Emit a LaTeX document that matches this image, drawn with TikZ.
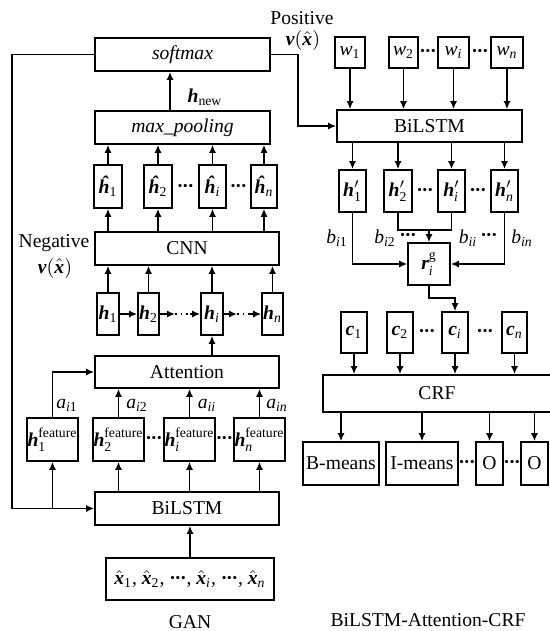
\documentclass[tikz,border=0pt]{standalone}
\usepackage{amsmath}
\usepackage{fontspec}
\setmainfont{Liberation Serif}
\usetikzlibrary{arrows.meta}

% bold italic vector letter, upright text and italic text inside math
\newcommand{\bv}[1]{\text{\normalfont\bfseries\itshape #1}}
\newcommand{\tx}[1]{\text{\normalfont #1}}
\newcommand{\ti}[1]{\text{\normalfont\itshape #1}}
% compact row of three centred dots
\newcommand{\dd}{\textperiodcentered\kern-0.06em\textperiodcentered\kern-0.06em\textperiodcentered}
% box given by its corners: name, x1, y1, x2, y2, text
\newcommand{\boxnode}[6]{%
  \node[blk, minimum width={(#4-#2)*0.5pt}, minimum height={(#5-#3)*0.5pt}]
    (#1) at ({(#2+#4)/2},{(#3+#5)/2}) {#6};}

\begin{document}
\begin{tikzpicture}[x=0.5pt, y=-0.5pt,
  font=\fontsize{9.8}{11.8}\selectfont, line width=0.8pt,
  blk/.style={draw, inner sep=0pt},
  arr/.style={-{Latex[length=4pt,width=3.5pt]}},
  lbl/.style={inner sep=0pt},
  dots/.style={inner sep=0pt, font=\fontsize{9.8}{11.8}\selectfont\bfseries}]
\clip (0,0) rectangle (550,631);

% ---------------- GAN ----------------
\boxnode{softmax}{95}{38}{270}{71}{\textit{softmax}}
\boxnode{maxpool}{95}{111}{270}{144}{\textit{max\_pooling}}
\node[lbl] (hnew) at (205,97) {$\bv{h}_{\tx{new}}$};

\boxnode{hh1}{94}{165}{122}{208}{$\bv{ĥ}_{\tx{1}}$}
\boxnode{hh2}{144}{165}{172}{208}{$\bv{ĥ}_{\tx{2}}$}
\boxnode{hhi}{199}{165}{226}{208}{$\bv{ĥ}_{\ti{i}}$}
\boxnode{hhn}{251}{165}{277}{208}{$\bv{ĥ}_{\ti{n}}$}
\node[dots] (dhh1) at (185.5,188) {\dd};
\node[dots] (dhh2) at (238.5,188) {\dd};

\boxnode{cnn}{95}{232}{279}{265}{CNN}
\node[lbl] (neg) at (54,243) {Negative};
\node[lbl] (negv) at (55,268) {$\bv{v}(\hat{\bv{x}})$};

\boxnode{h1}{97}{293}{119}{335}{$\bv{h}_{\tx{1}}$}
\boxnode{h2}{138}{293}{159}{335}{$\bv{h}_{\tx{2}}$}
\boxnode{hi}{201}{293}{223}{335}{$\bv{h}_{\ti{i}}$}
\boxnode{hn}{262}{293}{283}{335}{$\bv{h}_{\ti{n}}$}

\boxnode{att}{95}{356}{279}{388}{Attention}

\boxnode{f1}{27}{418}{78}{461}{$\bv{h}^{\tx{feature}}_{\tx{1}}$}
\boxnode{f2}{93}{418}{144}{461}{$\bv{h}^{\tx{feature}}_{\tx{2}}$}
\boxnode{fi}{164}{418}{215}{461}{$\bv{h}^{\tx{feature}}_{\ti{i}}$}
\boxnode{fn}{234}{418}{285}{461}{$\bv{h}^{\tx{feature}}_{\ti{n}}$}
\node[dots] (df1) at (154,440) {\dd};
\node[dots] (df2) at (224.5,440) {\dd};
\node[lbl] (a1) at (67,405) {$\ti{a}_{\ti{i}\tx{1}}$};
\node[lbl] (a2) at (137,405) {$\ti{a}_{\ti{i}\tx{2}}$};
\node[lbl] (ai) at (207,405) {$\ti{a}_{\ti{ii}}$};
\node[lbl] (an) at (277,405) {$\ti{a}_{\ti{in}}$};

\boxnode{bil}{95}{492}{279}{525}{BiLSTM}
\boxnode{inp}{106}{558}{274}{600}{$\hat{\bv{x}}_{\tx{1}}$, $\hat{\bv{x}}_{\tx{2}}$, {\bfseries\dd}, $\hat{\bv{x}}_{\ti{i}}$, {\bfseries\dd}, $\hat{\bv{x}}_{\ti{n}}$}
\node[lbl] (gan) at (190,622) {GAN};

% GAN connectors
\coordinate (mx) at (170,0);
\draw[arr] (maxpool.north -| mx) -- (softmax.south -| mx);
\foreach \n in {hh1,hh2,hhi,hhn}{
  \draw[arr] (\n.north) -- (maxpool.south -| \n.north);
  \draw[arr] (cnn.north -| \n.south) -- (\n.south);
}
\foreach \n in {h1,h2,hi,hn}{
  \draw[arr] (\n.north) -- (cnn.south -| \n.north);
}
\draw[arr] (h1.east) -- (h2.west);
\coordinate (hA) at (175,314);
\coordinate (hB) at (190,314);
\coordinate (hC) at (237,314);
\coordinate (hD) at (250,314);
\draw[arr] (h2.east) -- (hA);
\draw[dotted] (hA) -- (hB);
\draw[arr] (hB) -- (hi.west);
\draw[arr] (hi.east) -- (hC);
\draw[dotted] (hC) -- (hD);
\draw[arr] (hD) -- (hn.west);
\draw[arr] (att.north -| hi.south) -- (hi.south);

\draw[arr] (f1.north) |- (att.west);
\foreach \n in {f2,fi,fn}{
  \draw[arr] (\n.north) -- (att.south -| \n.north);
  \draw[arr] (bil.north -| \n.south) -- (\n.south);
}
\coordinate (lx) at (12,0);
\draw[arr] (softmax.west) -- (softmax.west -| lx) |- (bil.west);
\draw[arr] (f1.south |- bil.west) -- (f1.south);
\draw[arr] (inp.north) -- (bil.south -| inp.north);

% ---------------- BiLSTM-Attention-CRF ----------------
\node[lbl] (pos) at (302,18) {Positive};
\node[lbl] (posv) at (303,41) {$\bv{v}(\hat{\bv{x}})$};

\boxnode{w1}{335}{37}{365}{68}{$\ti{w}_{\tx{1}}$}
\boxnode{w2}{389}{37}{418}{68}{$\ti{w}_{\tx{2}}$}
\boxnode{wi}{438}{37}{469}{68}{$\ti{w}_{\ti{i}}$}
\boxnode{wn}{491}{37}{523}{68}{$\ti{w}_{\ti{n}}$}
\node[dots] (dw1) at (428,53) {\dd};
\node[dots] (dw2) at (480,53) {\dd};

\boxnode{bilr}{337}{110}{522}{142}{BiLSTM}

\boxnode{hp1}{339}{170}{366}{212}{$\bv{h}'_{\tx{1}}$}
\boxnode{hp2}{384}{170}{412}{212}{$\bv{h}'_{\tx{2}}$}
\boxnode{hpi}{438}{170}{465}{212}{$\bv{h}'_{\ti{i}}$}
\boxnode{hpn}{491}{170}{518}{212}{$\bv{h}'_{\ti{n}}$}
\node[dots] (dhp1) at (425,192) {\dd};
\node[dots] (dhp2) at (478,192) {\dd};

\boxnode{rg}{408}{243}{450}{285}{$\bv{r}^{\tx{g}}_{\ti{i}}$}
\node[lbl] (b1) at (337,238) {$\ti{b}_{\ti{i}\tx{1}}$};
\node[lbl] (b2) at (385,238) {$\ti{b}_{\ti{i}\tx{2}}$};
\node[dots] (db1) at (408,237) {\dd};
\node[lbl] (bi) at (468,238) {$\ti{b}_{\ti{ii}}$};
\node[dots] (db2) at (489,237) {\dd};
\node[lbl] (bn) at (522,238) {$\ti{b}_{\ti{in}}$};

\boxnode{c1}{341}{312}{367}{353}{$\bv{c}_{\tx{1}}$}
\boxnode{c2}{387}{312}{413}{353}{$\bv{c}_{\tx{2}}$}
\boxnode{ci}{442}{312}{468}{353}{$\bv{c}_{\ti{i}}$}
\boxnode{cn}{502}{312}{527}{353}{$\bv{c}_{\ti{n}}$}
\node[dots] (dc1) at (427,333) {\dd};
\node[dots] (dc2) at (485,333) {\dd};

\boxnode{crf}{323}{375}{551}{412}{CRF}

\boxnode{o1}{303}{442}{379}{485}{B-means}
\boxnode{o2}{386}{442}{458}{485}{I-means}
\boxnode{o3}{476}{442}{503}{485}{O}
\boxnode{o4}{521}{442}{548}{485}{O}
\node[dots] (do1) at (467,464) {\dd};
\node[dots] (do2) at (512,464) {\dd};

\node[lbl] (bac) at (428,620) {BiLSTM-Attention-CRF};

% right-hand connectors
\coordinate (rx) at (298,0);
\draw[arr] (softmax.east) -- (softmax.east -| rx) |- (bilr.west);
\foreach \n in {w1,w2,wi,wn}{
  \draw[arr] (\n.south) -- (bilr.north -| \n.south);
}
\foreach \n in {hp1,hp2,hpi,hpn}{
  \draw[arr] (bilr.south -| \n.north) -- (\n.north);
}
\draw[arr] (hp1.south) |- (rg.west);
\draw[arr] (hpn.south) |- (rg.east);
\coordinate (jn) at (429,230);
\draw (hp2.south) |- (jn) -| (hpi.south);
\draw[arr] (jn) -- (rg.north);
\coordinate (rc) at (429,298);
\draw[arr] (rg.south) -- (rc) -| (ci.north);
\foreach \n in {c1,c2,ci,cn}{
  \draw[arr] (\n.south) -- (crf.north -| \n.south);
}
\foreach \n in {o1,o2,o3,o4}{
  \draw[arr] (crf.south -| \n.north) -- (\n.north);
}
\end{tikzpicture}
\end{document}
